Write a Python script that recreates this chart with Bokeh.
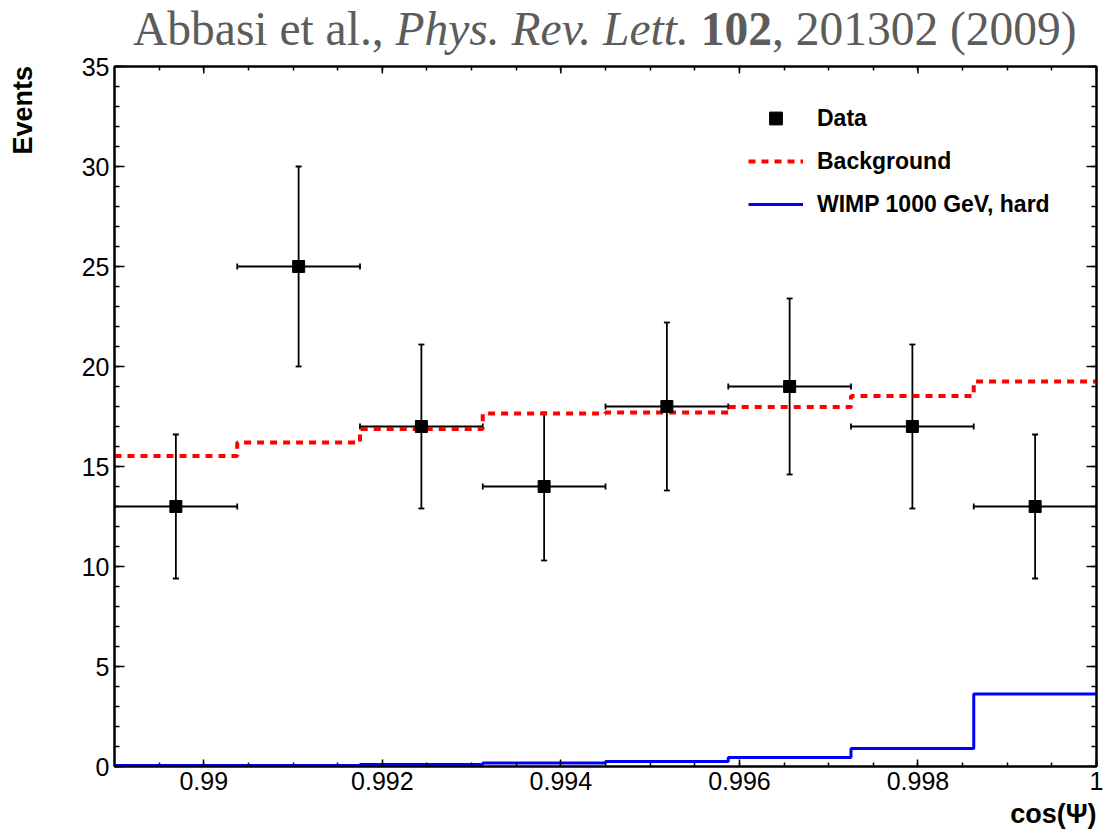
from bokeh.plotting import figure
from bokeh.layouts import column, row
from bokeh.models import (Range1d, FixedTicker, LinearAxis, Legend, LegendItem, Title, Div,
                          ColumnDataSource, Whisker, TeeHead)
from bokeh.embed import file_html
from bokeh.resources import INLINE

# ---------------- data ----------------
bin_edges = [0.989, 0.990375, 0.99175, 0.993125, 0.9945, 0.995875, 0.99725, 0.998625, 1.0]
x_centers = [0.9896875, 0.9910625, 0.9924375, 0.9938125, 0.9951875, 0.9965625, 0.9979375, 0.9993125]
data_counts = [13, 25, 17, 14, 18, 19, 17, 13]
data_err = [3.6, 5.0, 4.1, 3.7, 4.2, 4.4, 4.1, 3.6]
background = [15.53, 16.2, 16.87, 17.65, 17.7, 17.97, 18.53, 19.25]
wimp = [0.05, 0.05, 0.1, 0.17, 0.25, 0.45, 0.9, 3.62]

x_ticks = [0.99, 0.992, 0.994, 0.996, 0.998, 1.0]
x_tick_labels = ["0.99", "0.992", "0.994", "0.996", "0.998", "1"]
x_minor = [0.9895 + 0.0005 * i for i in range(22)]
y_ticks = [0, 5, 10, 15, 20, 25, 30, 35]
y_minor = list(range(0, 36))

citation_html = 'Abbasi et al., <i>Phys. Rev. Lett.</i> <b>102</b>, 201302 (2009)'
y_title = "Events"
x_title = "cos(Ψ)"

X0, X1, Y0, Y1 = 0.989, 1.0, 0.0, 35.0
SANS = "Liberation Sans"
W = 1110
DIV_H = 48              # citation strip height
EV_W = 40               # strip holding the vertical y-axis title
FL, FW, FH = 114, 982, 700
BORDER_TOP = 66 - DIV_H  # frame top at 66 on the page
BORDER_BOTTOM = 71
P_H = BORDER_TOP + FH + BORDER_BOTTOM

# ---------------- citation line ----------------
cite = Div(text=citation_html, width=W, height=DIV_H, margin=0,
           styles={"font-family": "'Liberation Serif', 'Times New Roman', serif",
                   "font-size": "47.5px", "line-height": "47.5px",
                   "color": "#5c5c5c", "padding-left": "133px", "padding-top": "6px",
                   "white-space": "nowrap", "box-sizing": "border-box",
                   "overflow": "visible"})

# ---------------- y-axis title (rotated, ROOT style at the top end) ----------------
ev_html = ('<div style="display:inline-block; transform-origin:0 0; '
           'transform:rotate(-90deg) translateX(-100%); '
           "font-family:'Liberation Sans', Arial, sans-serif; font-weight:bold; "
           'font-size:27px; line-height:27px; white-space:nowrap; color:#000;">'
           + y_title + '</div>')
ev = Div(text=ev_html, width=EV_W, height=P_H, margin=0,
         styles={"padding-left": "10px", "padding-top": f"{BORDER_TOP}px",
                 "box-sizing": "border-box", "overflow": "visible"})

# ---------------- main plot ----------------
p = figure(frame_width=FW, frame_height=FH,
           min_border_left=FL - EV_W, min_border_right=W - FL - FW,
           min_border_top=BORDER_TOP, min_border_bottom=BORDER_BOTTOM,
           x_range=Range1d(X0, X1), y_range=Range1d(Y0, Y1),
           output_backend="svg", toolbar_location=None,
           x_axis_location=None, y_axis_location=None)
p.background_fill_color = "white"
p.border_fill_alpha = 0
p.outline_line_color = "black"
p.outline_line_width = 2
p.xgrid.visible = False
p.ygrid.visible = False


def style_axis(ax, major_in, minor_in):
    ax.axis_line_width = 2
    ax.axis_line_color = "black"
    ax.major_tick_in = major_in
    ax.major_tick_out = 0
    ax.minor_tick_in = minor_in
    ax.minor_tick_out = 0
    ax.major_tick_line_width = 1.5
    ax.minor_tick_line_width = 1.5
    ax.major_label_text_font = SANS
    ax.major_label_text_font_size = "25px"
    ax.major_label_text_color = "black"
    ax.major_label_standoff = 5


xb = LinearAxis(ticker=FixedTicker(ticks=x_ticks, minor_ticks=x_minor))
xb.major_label_overrides = {tk: lb for tk, lb in zip(x_ticks, x_tick_labels)}
style_axis(xb, 7, 4)
p.add_layout(xb, "below")

yl = LinearAxis(ticker=FixedTicker(ticks=y_ticks, minor_ticks=y_minor))
style_axis(yl, 10, 5)
p.add_layout(yl, "left")

# top / right axes: minor ticks only (no labels); major ticks drawn from the tick lists
xt = LinearAxis(ticker=FixedTicker(ticks=[], minor_ticks=x_minor))
style_axis(xt, 7, 4)
p.add_layout(xt, "above")
yr = LinearAxis(ticker=FixedTicker(ticks=[], minor_ticks=y_minor))
style_axis(yr, 10, 5)
p.add_layout(yr, "right")

px_y = (Y1 - Y0) / FH
px_x = (X1 - X0) / FW
p.segment(x0=x_ticks, y0=[Y1] * len(x_ticks), x1=x_ticks, y1=[Y1 - 7 * px_y] * len(x_ticks),
          line_color="black", line_width=1.5)
p.segment(x0=[X1] * len(y_ticks), y0=y_ticks, x1=[X1 - 10 * px_x] * len(y_ticks), y1=y_ticks,
          line_color="black", line_width=1.5)

# x-axis title at the right end
p.add_layout(Title(text=x_title, align="right", text_font=SANS, text_font_style="bold",
                   text_font_size="27px", text_color="black", standoff=8), "below")

# ---------------- histograms ----------------
bg_r = p.step(x=bin_edges, y=background + [background[-1]], mode="after",
              line_color="#ff0000", line_width=4, line_dash="7 6")
wimp_r = p.step(x=bin_edges, y=wimp + [wimp[-1]], mode="after",
                line_color="#0000ff", line_width=3)

# ---------------- data points with error bars ----------------
src = ColumnDataSource(dict(
    x=x_centers, y=data_counts,
    ylo=[c - e for c, e in zip(data_counts, data_err)],
    yhi=[c + e for c, e in zip(data_counts, data_err)],
    xlo=bin_edges[:-1], xhi=bin_edges[1:],
))
for base, lo, hi, dim in (("x", "ylo", "yhi", "height"), ("y", "xlo", "xhi", "width")):
    p.add_layout(Whisker(source=src, base=base, lower=lo, upper=hi, dimension=dim,
                         line_color="black", line_width=1.8,
                         lower_head=TeeHead(size=6, line_width=1.8, line_color="black"),
                         upper_head=TeeHead(size=6, line_width=1.8, line_color="black")))
data_r = p.scatter("x", "y", source=src, marker="square", size=12,
                   fill_color="black", line_color="black")

# ---------------- legend ----------------
legend = Legend(items=[
    LegendItem(label="Data", renderers=[data_r]),
    LegendItem(label="Background", renderers=[bg_r]),
    LegendItem(label="WIMP 1000 GeV, hard", renderers=[wimp_r]),
], location=(634, 546))
legend.margin = 0
legend.padding = 0
legend.border_line_color = None
legend.background_fill_alpha = 0
legend.label_text_font = SANS
legend.label_text_font_style = "bold"
legend.label_text_font_size = "23px"
legend.label_text_color = "black"
legend.glyph_width = 55
legend.glyph_height = 32
legend.label_height = 32
legend.label_standoff = 14
legend.spacing = 11
p.add_layout(legend)

layout = column(cite, row(ev, p, spacing=0), spacing=0)
open("out.html", "w").write(file_html(layout, INLINE))
